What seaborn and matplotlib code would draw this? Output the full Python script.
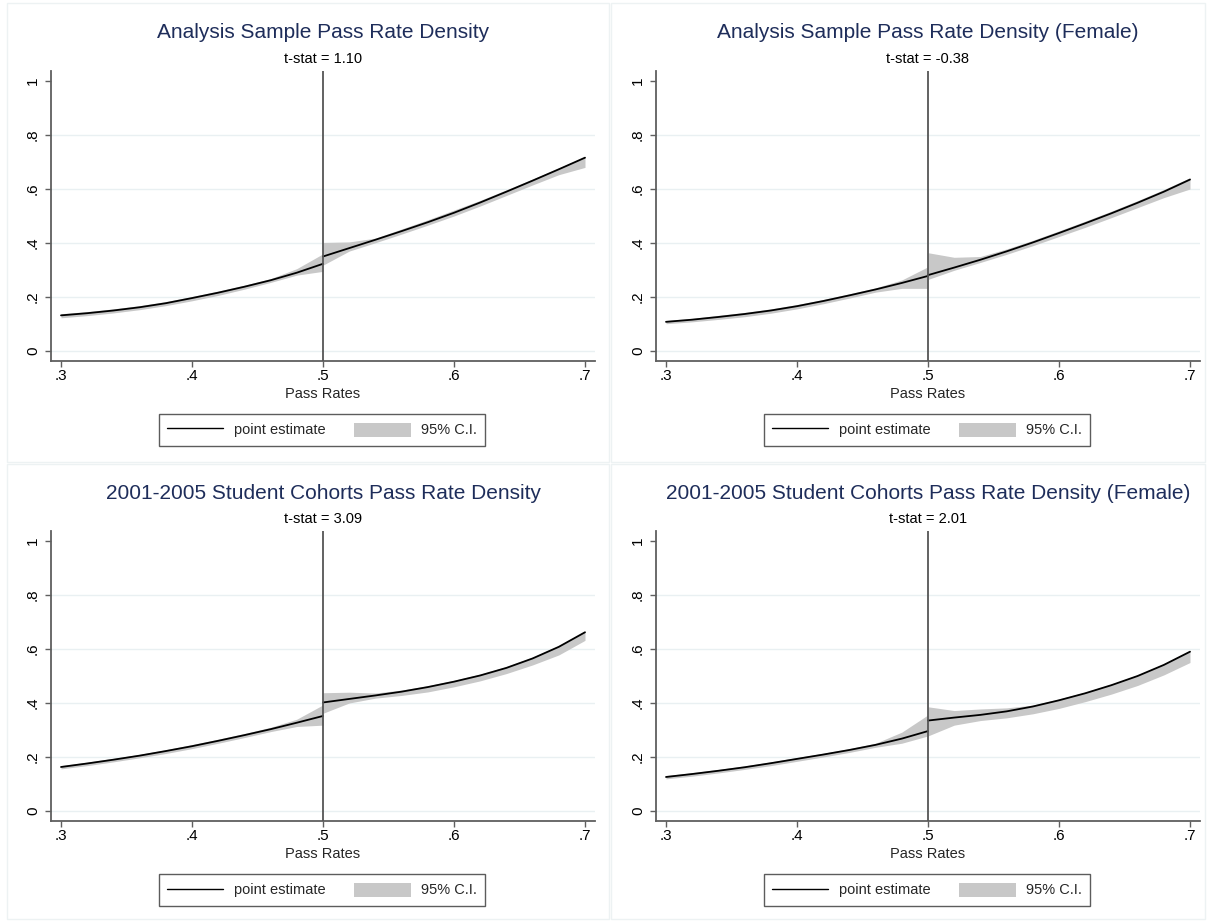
import matplotlib
matplotlib.use("Agg")
import matplotlib.pyplot as plt
from matplotlib.lines import Line2D
from matplotlib.patches import Patch, Rectangle
import numpy as np
import pandas as pd
import seaborn as sns

# Evaluation grid on each side of the 0.5 cutoff
X_BELOW = [0.30, 0.32, 0.34, 0.36, 0.38, 0.40, 0.42, 0.44, 0.46, 0.48, 0.50]
X_ABOVE = [0.50, 0.52, 0.54, 0.56, 0.58, 0.60, 0.62, 0.64, 0.66, 0.68, 0.70]

TITLES = [
    "Analysis Sample Pass Rate Density",
    "Analysis Sample Pass Rate Density (Female)",
    "2001-2005 Student Cohorts Pass Rate Density",
    "2001-2005 Student Cohorts Pass Rate Density (Female)",
]
TSTATS = ["t-stat = 1.10", "t-stat = -0.38", "t-stat = 3.09", "t-stat = 2.01"]

# Analysis sample
a_est_below = [0.132, 0.140, 0.150, 0.162, 0.177, 0.196, 0.216, 0.238, 0.262, 0.290, 0.323]
a_lo_below = [0.123, 0.131, 0.141, 0.153, 0.168, 0.186, 0.206, 0.229, 0.254, 0.281, 0.295]
a_hi_below = [0.138, 0.146, 0.156, 0.168, 0.183, 0.202, 0.222, 0.244, 0.268, 0.305, 0.360]
a_est_above = [0.350, 0.381, 0.412, 0.444, 0.477, 0.512, 0.550, 0.590, 0.631, 0.673, 0.716]
a_lo_above = [0.318, 0.370, 0.401, 0.433, 0.466, 0.500, 0.537, 0.576, 0.615, 0.653, 0.680]
a_hi_above = [0.402, 0.404, 0.418, 0.452, 0.486, 0.522, 0.558, 0.597, 0.637, 0.678, 0.720]

# Analysis sample, female
f_est_below = [0.108, 0.116, 0.126, 0.137, 0.150, 0.166, 0.185, 0.206, 0.228, 0.252, 0.278]
f_lo_below = [0.101, 0.108, 0.117, 0.127, 0.140, 0.156, 0.175, 0.196, 0.218, 0.232, 0.232]
f_hi_below = [0.113, 0.121, 0.132, 0.143, 0.156, 0.172, 0.191, 0.212, 0.234, 0.263, 0.312]
f_est_above = [0.281, 0.309, 0.338, 0.369, 0.402, 0.437, 0.473, 0.510, 0.549, 0.590, 0.635]
f_lo_above = [0.265, 0.299, 0.328, 0.358, 0.390, 0.424, 0.458, 0.494, 0.531, 0.568, 0.600]
f_hi_above = [0.364, 0.347, 0.350, 0.378, 0.410, 0.445, 0.481, 0.518, 0.557, 0.598, 0.642]

# 2001-2005 cohorts
c_est_below = [0.163, 0.176, 0.190, 0.205, 0.222, 0.240, 0.260, 0.281, 0.303, 0.327, 0.352]
c_lo_below = [0.156, 0.168, 0.182, 0.197, 0.213, 0.231, 0.251, 0.272, 0.294, 0.313, 0.318]
c_hi_below = [0.168, 0.181, 0.195, 0.210, 0.227, 0.246, 0.266, 0.287, 0.310, 0.340, 0.393]
c_est_above = [0.402, 0.415, 0.428, 0.442, 0.459, 0.479, 0.502, 0.530, 0.565, 0.608, 0.662]
c_lo_above = [0.362, 0.400, 0.418, 0.428, 0.441, 0.460, 0.482, 0.509, 0.541, 0.578, 0.632]
c_hi_above = [0.438, 0.440, 0.437, 0.448, 0.464, 0.484, 0.507, 0.535, 0.570, 0.613, 0.666]

# 2001-2005 cohorts, female
cf_est_below = [0.126, 0.137, 0.149, 0.162, 0.177, 0.193, 0.209, 0.226, 0.245, 0.268, 0.296]
cf_lo_below = [0.119, 0.129, 0.141, 0.154, 0.168, 0.184, 0.200, 0.217, 0.236, 0.251, 0.278]
cf_hi_below = [0.131, 0.142, 0.154, 0.167, 0.182, 0.198, 0.214, 0.231, 0.251, 0.292, 0.356]
cf_est_above = [0.335, 0.346, 0.356, 0.369, 0.387, 0.410, 0.436, 0.466, 0.500, 0.541, 0.590]
cf_lo_above = [0.278, 0.318, 0.335, 0.345, 0.360, 0.380, 0.405, 0.433, 0.465, 0.504, 0.550]
cf_hi_above = [0.386, 0.372, 0.378, 0.382, 0.392, 0.415, 0.440, 0.470, 0.504, 0.545, 0.594]

PANELS = [
    (a_est_below, a_lo_below, a_hi_below, a_est_above, a_lo_above, a_hi_above),
    (f_est_below, f_lo_below, f_hi_below, f_est_above, f_lo_above, f_hi_above),
    (c_est_below, c_lo_below, c_hi_below, c_est_above, c_lo_above, c_hi_above),
    (cf_est_below, cf_lo_below, cf_hi_below, cf_est_above, cf_lo_above, cf_hi_above),
]

X_TICKS = [0.3, 0.4, 0.5, 0.6, 0.7]
X_TICKLABELS = [".3", ".4", ".5", ".6", ".7"]
Y_TICKS = [0, 0.2, 0.4, 0.6, 0.8, 1.0]
Y_TICKLABELS = ["0", ".2", ".4", ".6", ".8", "1"]

sns.set_style("white")
plt.rcParams["font.family"] = ["Liberation Sans", "DejaVu Sans"]

W, H = 1209, 921
fig = plt.figure(figsize=(W / 100, H / 100), dpi=100)
fig.patch.set_facecolor("white")

BAND = "#c8c8c8"
AXIS_GRAY = "#5f5f5f"
GRID = "#e9f0f2"
NAVY = "#1e2d5a"


def fx(px):
    return px / W


def fy(py):
    return 1 - py / H


# Faint frames around each sub-graph
for (x0, y0, x1, y1) in [(7, 3, 609, 462), (611, 3, 1205, 462),
                         (7, 464, 609, 919), (611, 464, 1205, 919)]:
    fig.add_artist(Rectangle((fx(x0), fy(y1)), fx(x1 - x0), (y1 - y0) / H,
                             transform=fig.transFigure, fill=False,
                             edgecolor="#edf2f3", linewidth=1.0))

# axes boxes in pixels: left, top, right, bottom
BOXES = [(51, 71, 595, 361), (656, 71, 1200, 361),
         (51, 531, 595, 821), (656, 531, 1200, 821)]

for i, (box, data) in enumerate(zip(BOXES, PANELS)):
    l, t, r, b = box
    ax = fig.add_axes([fx(l), fy(b), (r - l) / W, (b - t) / H])
    est_b, lo_b, hi_b, est_a, lo_a, hi_a = data

    ax.fill_between(X_BELOW, lo_b, hi_b, color=BAND, linewidth=0, zorder=2)
    ax.fill_between(X_ABOVE, lo_a, hi_a, color=BAND, linewidth=0, zorder=2)

    df_b = pd.DataFrame({"pass_rate": X_BELOW, "density": est_b})
    df_a = pd.DataFrame({"pass_rate": X_ABOVE, "density": est_a})
    sns.lineplot(data=df_b, x="pass_rate", y="density", ax=ax,
                 color="black", linewidth=1.3, zorder=3)
    sns.lineplot(data=df_a, x="pass_rate", y="density", ax=ax,
                 color="black", linewidth=1.3, zorder=3)

    ax.axvline(0.5, color="#555555", linewidth=1.3, zorder=4)

    ax.set_xlim(0.3 - 10 / 1310, 0.7 + 10 / 1310)
    ax.set_ylim(-10 / 270, 1 + 10 / 270)
    ax.set_xticks(X_TICKS)
    ax.set_xticklabels(X_TICKLABELS)
    ax.set_yticks(Y_TICKS)
    ax.set_yticklabels(Y_TICKLABELS, rotation=90, va="center")

    ax.grid(axis="y", color=GRID, linewidth=1.0, zorder=0)
    ax.grid(axis="x", visible=False)
    ax.get_ygridlines()[-1].set_visible(False)
    ax.set_axisbelow(True)

    for s in ["top", "right"]:
        ax.spines[s].set_visible(False)
    for s in ["left", "bottom"]:
        ax.spines[s].set_color(AXIS_GRAY)
        ax.spines[s].set_linewidth(1.3)

    ax.tick_params(axis="both", which="major", direction="out", length=4,
                   width=1.0, color=AXIS_GRAY, labelsize=11,
                   labelcolor="black", left=True, bottom=True)
    ax.tick_params(axis="x", pad=2)
    ax.tick_params(axis="y", pad=4)

    ax.set_xlabel("Pass Rates", fontsize=10.5, labelpad=3)
    ax.set_ylabel("")

    cx = (l + r) / 2
    fig.text(fx(cx), fy(t - 38), TITLES[i], ha="center", va="center",
             fontsize=15, color=NAVY)
    fig.text(fx(cx), fy(t - 12), TSTATS[i], ha="center", va="center",
             fontsize=10.5, color="black")

    handles = [Line2D([0], [0], color="black", linewidth=1.0),
               Patch(facecolor=BAND, edgecolor="none")]
    leg = ax.legend(handles, ["point estimate", "95% C.I."], ncol=2,
                    loc="center", bbox_to_anchor=(fx(cx - 1), fy(b + 69)),
                    bbox_transform=fig.transFigure, frameon=True,
                    fancybox=False, fontsize=10.5, handlelength=3.85,
                    handleheight=1.1, handletextpad=0.7, columnspacing=2.0,
                    borderpad=0.6, borderaxespad=0)
    leg.get_frame().set_edgecolor("#333333")
    leg.get_frame().set_linewidth(1.0)

fig.savefig("out.png", dpi=100, facecolor="white")
